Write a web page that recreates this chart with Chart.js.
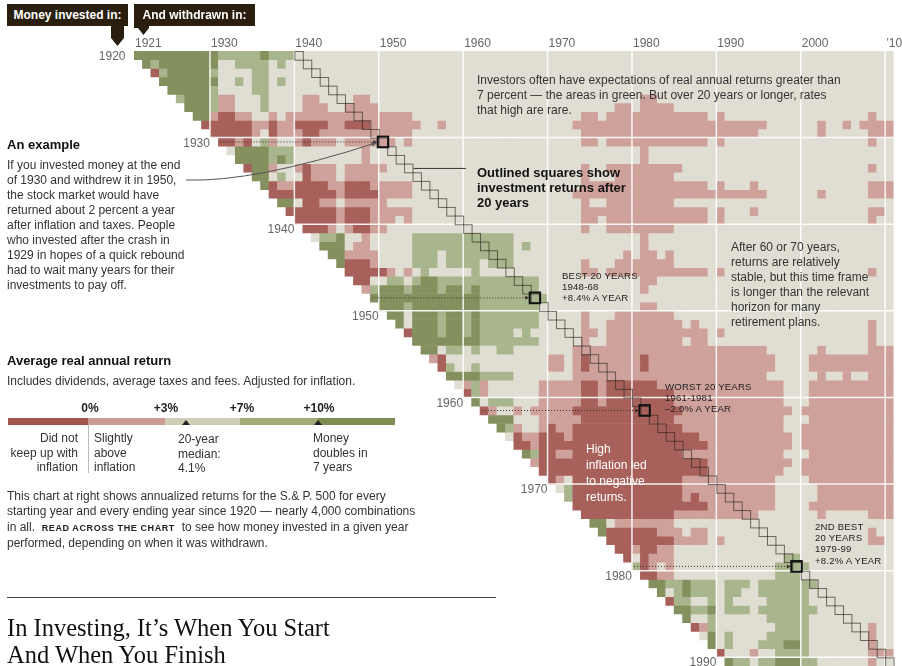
<!DOCTYPE html>
<html>
<head>
<meta charset="utf-8">
<title>In Investing, It’s When You Start And When You Finish</title>
<script src="https://cdn.jsdelivr.net/npm/chart.js@4.4.1/dist/chart.umd.min.js"></script>
<style>
html, body { margin: 0; padding: 0; background: #fff; }
body { position: relative; width: 902px; height: 666px; overflow: hidden;
       font-family: Arial, "Liberation Sans", Helvetica, sans-serif; color: #333; }
#heat { position: absolute; left: 0; top: 0; }
#shapes { position: absolute; left: 0; top: 0; }
.t { position: absolute; font-size: 12px; line-height: 15px; white-space: nowrap; color: #333; }
.h { font-weight: bold; font-size: 13px; color: #111; }
.small { font-size: 9.6px; line-height: 11.2px; color: #222; letter-spacing: 0.2px; }
.flag { position: absolute; top: 4px; height: 22px; width: 121px; color: #fff; font-weight: bold;
        font-size: 12px; line-height: 22px; text-align: center; white-space: nowrap; }
.num { position: absolute; top: 401px; font-weight: bold; font-size: 12px; line-height: 15px;
       color: #222; transform: translateX(-50%); }
.leg { position: absolute; top: 431px; font-size: 12px; line-height: 14.5px; color: #333; white-space: nowrap; }
.title { position: absolute; left: 7px; font-family: "Liberation Serif", "Times New Roman", serif;
         font-size: 24.5px; line-height: 26.5px; color: #111; white-space: nowrap; }
.caps { font-weight: bold; font-size: 9px; letter-spacing: 0.6px; color: #222; }
</style>
</head>
<body>
<canvas id="heat" width="902" height="666"></canvas>

<svg id="shapes" width="902" height="666">
  <rect x="7" y="4" width="121" height="22" fill="#2a1e0e"/>
  <polygon points="111,25 124,25 124,38 117.5,46 111,38" fill="#2a1e0e"/>
  <rect x="134" y="4" width="121" height="22" fill="#2a1e0e"/>
  <polygon points="134,25 149,25 149,28 143.5,35 138,28 134,28" fill="#2a1e0e"/>

  <rect x="8" y="418" width="80" height="7" fill="#a3554e"/>
  <rect x="88" y="418" width="77" height="7" fill="#cc9c94"/>
  <rect x="165" y="418" width="75" height="7" fill="#d0cdb5"/>
  <rect x="240" y="418" width="78" height="7" fill="#a0ab78"/>
  <rect x="318" y="418" width="77" height="7" fill="#7f8c53"/>
  <polygon points="182,425 190,425 186,420" fill="#222"/>
  <polygon points="314,425 322,425 318,420" fill="#222"/>
  <line x1="88.5" y1="425" x2="88.5" y2="473" stroke="#bbb" stroke-width="1"/>

  <line x1="7" y1="597.5" x2="496" y2="597.5" stroke="#444" stroke-width="1"/>
</svg>

<div class="flag" style="left:7px">Money invested in:</div>
<div class="flag" style="left:134px">And withdrawn in:</div>

<div class="t h" style="left:7px; top:136.5px">An example</div>
<div class="t" style="left:7px; top:157.5px">If you invested money at the end<br>of 1930 and withdrew it in 1950,<br>the stock market would have<br>returned about 2 percent a year<br>after inflation and taxes. People<br>who invested after the crash in<br>1929 in hopes of a quick rebound<br>had to wait many years for their<br>investments to pay off.</div>

<div class="t h" style="left:7px; top:353px">Average real annual return</div>
<div class="t" style="left:7px; top:374px">Includes dividends, average taxes and fees. Adjusted for inflation.</div>

<div class="num" style="left:90px">0%</div>
<div class="num" style="left:166px">+3%</div>
<div class="num" style="left:242px">+7%</div>
<div class="num" style="left:319px">+10%</div>

<div class="leg" style="right:824px; text-align:right">Did not<br>keep up with<br>inflation</div>
<div class="leg" style="left:94px">Slightly<br>above<br>inflation</div>
<div class="leg" style="left:178px; top:432px">20-year<br>median:<br>4.1%</div>
<div class="leg" style="left:313px">Money<br>doubles in<br>7 years</div>

<div class="t" style="left:7px; top:489px; line-height:15.3px">This chart at right shows annualized returns for the S.&amp; P. 500 for every<br>starting year and every ending year since 1920 — nearly 4,000 combinations<br>in all. &nbsp;<span class="caps">READ ACROSS THE CHART</span>&nbsp; to see how money invested in a given year<br>performed, depending on when it was withdrawn.</div>

<div class="title" style="top:615px">In Investing, It’s When You Start<br>And When You Finish</div>

<div class="t" style="left:477px; top:73px">Investors often have expectations of real annual returns greater than<br>7 percent — the areas in green. But over 20 years or longer, rates<br>that high are rare.</div>
<div class="t h" style="left:477px; top:164.5px">Outlined squares show<br>investment returns after<br>20 years</div>
<div class="t small" style="left:562px; top:269.5px">BEST 20 YEARS<br>1948-68<br>+8.4% A YEAR</div>
<div class="t" style="left:731px; top:240px">After 60 or 70 years,<br>returns are relatively<br>stable, but this time frame<br>is longer than the relevant<br>horizon for many<br>retirement plans.</div>
<div class="t small" style="left:665px; top:380.5px">WORST 20 YEARS<br>1961-1981<br>–2.0% A YEAR</div>
<div class="t" style="left:586px; top:440.5px; line-height:16px; color:#fff">High<br>inflation led<br>to negative<br>returns.</div>
<div class="t small" style="left:815px; top:521px">2ND BEST<br>20 YEARS<br>1979-99<br>+8.2% A YEAR</div>

<script>
// Years money was withdrawn (columns) and invested (rows)
const endYears = [];
for (let y = 1921; y <= 2010; y++) endYears.push(y);
const startYears = [];
for (let y = 1920; y <= 2009; y++) startYears.push(y);

// Real S&P 500 return for each calendar year 1921-2010, in percent,
// dividends included, after average taxes and fees
const annualReturns = [
  21.5, 22.1, -1.9, 18.1, 17.0, 8.9, 30.1, 33.5, -7.8, -14.3,
  -27.1, 3.2, 35.4, -3.3, 30.1, 21.2, -29.5, 24.5, -1.8, -9.7,
  -18.7, 4.0, 14.4, 10.7, 23.1, -21.5, -5.4, 0.3, 15.7, 15.9,
  10.8, 11.8, -2.6, 39.4, 23.0, 1.5, -11.4, 29.4, 6.3, -2.1,
  18.1, -8.8, 14.1, 10.2, 6.3, -12.2, 12.8, 1.7, -13.2, -4.3,
  5.5, 8.8, -19.4, -29.7, 18.0, 10.8, -12.7, -5.3, -1.0, 8.5,
  -12.9, 10.1, 11.5, -0.2, 18.4, 11.6, -1.0, 6.7, 17.7, -8.9,
  18.0, 1.7, 3.7, -2.7, 23.8, 12.3, 21.8, 18.3, 11.7, -10.8,
  -11.3, -19.4, 18.1, 3.6, -0.8, 8.0, -0.9, -28.5, 15.3, 8.5
];

// colour bands: <0, 0-3, 3-7, 7-10, 10+
const bandEdges = [0, 3, 7, 10];

const xTickYears = [1921, 1930, 1940, 1950, 1960, 1970, 1980, 1990, 2000, 2010];
const xTickLabels = ['1921', '1930', '1940', '1950', '1960', '1970', '1980', '1990', '2000', '\u201910'];
const yTickYears = [1920, 1930, 1940, 1950, 1960, 1970, 1980, 1990];
const gridYears = [1930, 1940, 1950, 1960, 1970, 1980, 1990, 2000, 2010];

const horizon = 20;
const highlights = [[1930, 1950], [1948, 1968], [1961, 1981], [1979, 1999]];

const bandColors = ['#a8605a', '#cfa19b', '#e0ded3', '#a9b58c', '#84915e'];

function annualized(s, e) {
  let g = 1;
  for (let y = s + 1; y <= e; y++) g *= 1 + annualReturns[y - endYears[0]] / 100;
  return (Math.pow(g, 1 / (e - s)) - 1) * 100;
}

function band(v) {
  let i = 0;
  while (i < bandEdges.length && v >= bandEdges[i]) i++;
  return i;
}

// one floating-bar dataset per starting year
const datasets = startYears.map(s => ({
  data: endYears.map(e => e > s ? [s, s + 1] : null),
  backgroundColor: endYears.map(e => e > s ? bandColors[band(annualized(s, e))] : 'rgba(0,0,0,0)'),
  barPercentage: 1,
  categoryPercentage: 1,
  grouped: false,
  borderWidth: 0
}));

function cellBox(chart, s, e) {
  const xs = chart.scales.x, ys = chart.scales.y;
  const w = xs.width / endYears.length;
  const cx = xs.getPixelForValue(endYears.indexOf(e));
  const top = ys.getPixelForValue(s), bottom = ys.getPixelForValue(s + 1);
  return { x: cx - w / 2, y: top, w: w, h: bottom - top };
}

function arrowHead(ctx, x, y, angle, size) {
  ctx.save();
  ctx.translate(x, y);
  ctx.rotate(angle);
  ctx.beginPath();
  ctx.moveTo(0, 0);
  ctx.lineTo(-size, -size / 2);
  ctx.lineTo(-size, size / 2);
  ctx.closePath();
  ctx.fill();
  ctx.restore();
}

const decor = {
  id: 'decor',
  afterDatasetsDraw(chart) {
    const ctx = chart.ctx;
    const area = chart.chartArea;
    const ys = chart.scales.y;
    ctx.save();

    // white decade lines over the cells
    ctx.strokeStyle = 'rgba(255,255,255,0.9)';
    ctx.lineWidth = 1.5;
    gridYears.forEach(yr => {
      const b = cellBox(chart, 1920, yr);
      ctx.beginPath(); ctx.moveTo(b.x, area.top); ctx.lineTo(b.x, area.bottom); ctx.stroke();
      if (yr <= 1990) {
        const y = ys.getPixelForValue(yr);
        ctx.beginPath(); ctx.moveTo(area.left, y); ctx.lineTo(area.right, y); ctx.stroke();
      }
    });

    // outlined 20-year squares
    ctx.strokeStyle = 'rgba(45,38,30,0.65)';
    ctx.lineWidth = 1;
    startYears.forEach(s => {
      if (s + horizon > endYears[endYears.length - 1] || s > 1990) return;
      const b = cellBox(chart, s, s + horizon);
      ctx.strokeRect(b.x + 0.5, b.y + 0.5, b.w, b.h);
    });

    // highlighted squares and dotted arrows
    highlights.forEach(([s, e]) => {
      const b = cellBox(chart, s, e);
      const first = cellBox(chart, s, s + 1);
      const y = b.y + b.h / 2;
      ctx.strokeStyle = '#3a3026';
      ctx.fillStyle = '#3a3026';
      ctx.lineWidth = 1;
      ctx.setLineDash([1, 2]);
      ctx.beginPath(); ctx.moveTo(first.x + 2, y); ctx.lineTo(b.x - 5, y); ctx.stroke();
      ctx.setLineDash([]);
      arrowHead(ctx, b.x - 1.5, y, 0, 4);
      ctx.strokeStyle = '#111';
      ctx.lineWidth = 2;
      ctx.strokeRect(b.x - 1, b.y - 1, b.w + 2, b.h + 2);
    });

    // axis labels
    ctx.font = '12px Arial, "Liberation Sans", sans-serif';
    ctx.fillStyle = '#666';
    ctx.textBaseline = 'middle';
    ctx.textAlign = 'left';
    xTickYears.forEach((yr, i) => {
      const b = cellBox(chart, 1920, yr);
      ctx.fillText(xTickLabels[i], b.x + 1, 43.5);
    });
    ctx.textAlign = 'right';
    yTickYears.forEach(s => {
      const b = cellBox(chart, s, s + 1);
      ctx.fillText(String(s), b.x - 8.5, b.y + b.h / 2 + 1.5);
    });

    // connector from the example text
    const ex = cellBox(chart, 1930, 1950);
    ctx.strokeStyle = '#555';
    ctx.fillStyle = '#555';
    ctx.lineWidth = 1;
    const ax = ex.x - 2, ay = ex.y + 5;
    ctx.beginPath(); ctx.moveTo(186, 180); ctx.quadraticCurveTo(254, 182.5, ax, ay); ctx.stroke();
    arrowHead(ctx, ax, ay, Math.atan2(ay - 182.5, ax - 254), 5);

    // connector to the "outlined squares" note
    const ob = cellBox(chart, 1933, 1933 + horizon);
    ctx.strokeStyle = '#333';
    ctx.beginPath();
    ctx.moveTo(ob.x + ob.w + 1, ob.y + ob.h / 2 + 0.5);
    ctx.lineTo(466, ob.y + ob.h / 2 + 0.5);
    ctx.stroke();

    ctx.restore();
  }
};

new Chart(document.getElementById('heat'), {
  type: 'bar',
  data: { labels: endYears.map(String), datasets: datasets },
  options: {
    responsive: false,
    animation: false,
    devicePixelRatio: 1,
    events: [],
    layout: { padding: { left: 134, right: 8.4, top: 51, bottom: 0 } },
    scales: {
      x: { type: 'category', display: false, offset: true },
      y: { type: 'linear', display: false, reverse: true, min: 1920, max: 1991 }
    },
    plugins: {
      legend: { display: false },
      tooltip: { enabled: false }
    }
  },
  plugins: [decor]
});
</script>
</body>
</html>
